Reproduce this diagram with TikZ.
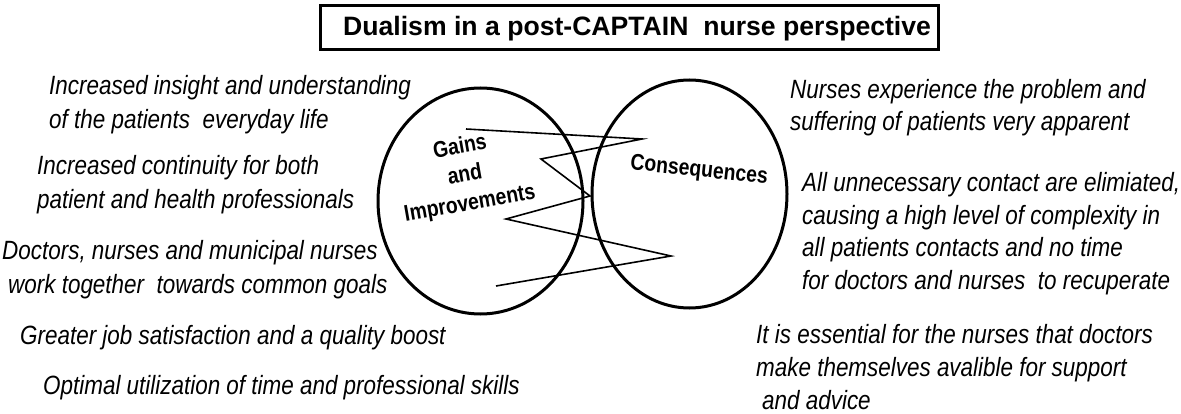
\documentclass[tikz,border=0pt]{standalone}
\usepackage{fontspec}
\setmainfont{Liberation Sans}
\newfontfamily\narrowfont{Liberation Sans}[FakeStretch=0.85]
\usetikzlibrary{shapes.geometric}
\begin{document}
\begin{tikzpicture}[x=1pt,y=-1pt,
  itl/.style={anchor=base west, inner sep=0pt, font=\narrowfont\fontsize{26.4}{30}\selectfont\itshape},
  ell/.style={draw, ellipse, line width=3pt, inner sep=0pt},
  lbl/.style={font=\narrowfont\fontsize{22.8}{28.5}\selectfont\bfseries, align=center, inner sep=0pt},
  zz/.style={line width=1.6pt, line join=miter}]
\useasboundingbox (0,0) rectangle (1181,414);
% title
\node[draw, line width=2.8pt, minimum width=618pt, minimum height=44pt, inner sep=0pt, anchor=north west] (titlebox) at (319,4) {};
\node[anchor=base west, inner sep=0pt, font=\fontsize{26.6}{30}\selectfont\bfseries] (titletext) at (343,36) {Dualism in a post-CAPTAIN\ \ nurse perspective};
% ellipses
\node[ell, minimum width=205pt, minimum height=226pt] (gains) at (480.5,201) {};
\node[ell, minimum width=195pt, minimum height=228pt] (cons) at (689.5,194) {};
\node[lbl, rotate=10] (gtext) at (465,176) {Gains\\and\\Improvements};
\node[lbl, rotate=-6] (ctext) at (699,171) {Consequences};
% zigzag
\coordinate (z1) at (466,129);
\coordinate (z2) at (642,139);
\coordinate (z3) at (541,159);
\coordinate (z4) at (590,196);
\coordinate (z5) at (506,219);
\coordinate (z6) at (671,256);
\coordinate (z7) at (496,286);
\draw[zz] (z1) -- (z2) -- (z3) -- (z4) -- (z5) -- (z6) -- (z7);
% left texts
\node[itl] (l1a) at (49,95) {Increased insight and understanding};
\node[itl] (l1b) at (49,129) {of the patients\ \ everyday life};
\node[itl] (l2a) at (37,175) {Increased continuity for both};
\node[itl] (l2b) at (37,209) {patient and health professionals};
\node[itl] (l3a) at (2,259) {Doctors, nurses and municipal nurses};
\node[itl] (l3b) at (8,294) {work together\ \ towards common goals};
\node[itl] (l4) at (20,344) {Greater job satisfaction and a quality boost};
\node[itl] (l5) at (43,394) {Optimal utilization of time and professional skills};
% right texts
\node[itl] (r1a) at (790,99) {Nurses experience the problem and};
\node[itl] (r1b) at (790,131) {suffering of patients very apparent};
\node[itl] (r2a) at (802,192) {All unnecessary contact are elimiated,};
\node[itl] (r2b) at (802,225) {causing a high level of complexity in};
\node[itl] (r2c) at (802,257) {all patients contacts and no time};
\node[itl] (r2d) at (802,290) {for doctors and nurses\ \ to recuperate};
\node[itl] (r3a) at (756,343) {It is essential for the nurses that doctors};
\node[itl] (r3b) at (756,376) {make themselves avalible for support};
\node[itl] (r3c) at (762,409) {and advice};
\end{tikzpicture}
\end{document}
